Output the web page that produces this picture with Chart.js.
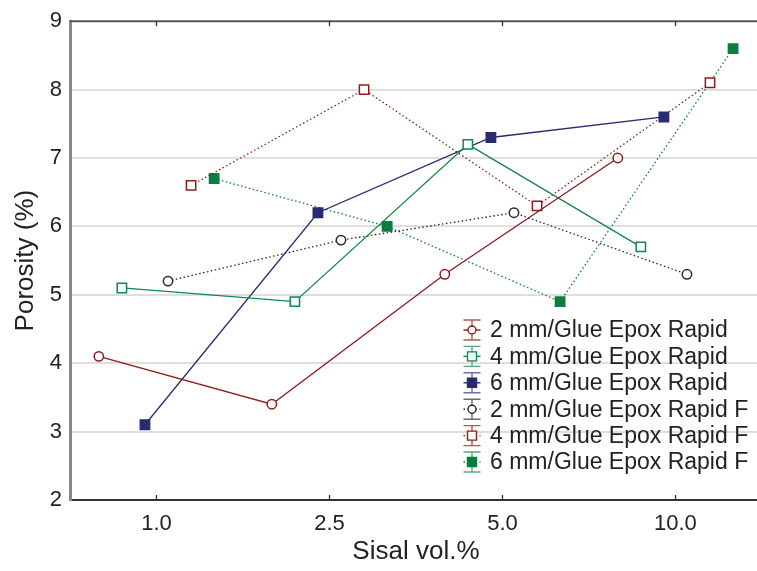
<!DOCTYPE html>
<html>
<head>
<meta charset="utf-8">
<title>Porosity vs sisal</title>
<script src="https://cdn.jsdelivr.net/npm/chart.js@4.4.1/dist/chart.umd.min.js"></script>
<style>
  html,body{margin:0;padding:0;background:#fff;overflow:hidden}
  canvas{display:block}
</style>
</head>
<body>
<canvas id="chart" width="770" height="571"></canvas>
<script>
// tick labels of the sisal axis (categories)
const categories = ['1.0', '2.5', '5.0', '10.0'];
const yTicks = [2, 3, 4, 5, 6, 7, 8, 9];

const seriesNames = [
  '2 mm/Glue Epox Rapid',
  '4 mm/Glue Epox Rapid',
  '6 mm/Glue Epox Rapid',
  '2 mm/Glue Epox Rapid F',
  '4 mm/Glue Epox Rapid F',
  '6 mm/Glue Epox Rapid F'
];

// porosity (%) per category
const p2mm  = [4.1, 3.4, 5.3, 7.0];
const p4mm  = [5.1, 4.9, 7.2, 5.7];
const p6mm  = [3.1, 6.2, 7.3, 7.6];
const p2mmF = [5.2, 5.8, 6.2, 5.3];
const p4mmF = [6.6, 8.0, 6.3, 8.1];
const p6mmF = [6.7, 6.0, 4.9, 8.6];
const seriesValues = [p2mm, p4mm, p6mm, p2mmF, p4mmF, p6mmF];

// styling: horizontal dodge of each series inside a category, colours, markers
const dodge = [-1/3, -0.2, -1/15, 1/15, 0.2, 1/3];
const styles = [
  {color:'#8e1c1c', cap:'#a85a5a', marker:'circle', fill:'#fff', dash:[]},
  {color:'#14874a', cap:'#5aa87e', marker:'rect', fill:'#fff', dash:[]},
  {color:'#282b70', cap:'#6d70a3', marker:'rect', fill:'#282b70', dash:[]},
  {color:'#2a2a2a', cap:'#6a6a6a', marker:'circle', fill:'#fff', dash:[1.5,2.5]},
  {color:'#8e1c1c', cap:'#a85a5a', marker:'rect', fill:'#fff', dash:[1.5,2.5]},
  {color:'#0b7d3e', cap:'#5aa87e', marker:'rect', fill:'#0b7d3e', dash:[1.5,2.5]}
];

const FONT = "'Liberation Sans', Arial, Helvetica, sans-serif";

const datasets = seriesNames.map((name, i) => {
  const st = styles[i];
  return {
    label: name,
    data: seriesValues[i].map((v, k) => ({x: k + dodge[i], y: v})),
    showLine: true,
    borderColor: st.color,
    borderWidth: 1.3,
    borderDash: st.dash,
    pointStyle: st.marker,
    pointRadius: st.marker === 'circle' ? 4.7 : 6.6,
    pointBorderWidth: 1.5,
    pointBackgroundColor: st.fill,
    pointBorderColor: st.color,
    tension: 0
  };
});

const framePlugin = {
  id: 'frame',
  afterDraw(chart){
    const {ctx, chartArea} = chart;
    const xs = chart.scales.x;
    ctx.save();
    // top frame line
    ctx.strokeStyle = '#555';
    ctx.lineWidth = 2;
    ctx.beginPath();
    ctx.moveTo(chartArea.left, chartArea.top);
    ctx.lineTo(chartArea.right, chartArea.top);
    ctx.stroke();
    // inward tick marks at top and bottom
    ctx.strokeStyle = '#333';
    ctx.lineWidth = 1.3;
    categories.forEach((c, k) => {
      const px = Math.round(xs.getPixelForValue(k)) + 0.5;
      ctx.beginPath();
      ctx.moveTo(px, chartArea.bottom);
      ctx.lineTo(px, chartArea.bottom - 5);
      ctx.moveTo(px, chartArea.top);
      ctx.lineTo(px, chartArea.top + 5);
      ctx.stroke();
    });

    // legend with error-bar glyphs
    const lx = 472, ly0 = 330, step = 26.4;
    seriesNames.forEach((name, i) => {
      const st = styles[i];
      const y = ly0 + i * step;
      ctx.setLineDash([]);
      ctx.strokeStyle = st.cap;
      ctx.lineWidth = 1.4;
      ctx.beginPath();
      ctx.moveTo(lx - 8.5, y - 10); ctx.lineTo(lx + 8.5, y - 10);
      ctx.moveTo(lx - 8.5, y + 10); ctx.lineTo(lx + 8.5, y + 10);
      ctx.moveTo(lx, y - 10); ctx.lineTo(lx, y + 10);
      ctx.stroke();
      ctx.strokeStyle = st.color;
      ctx.setLineDash(st.dash);
      ctx.beginPath();
      ctx.moveTo(lx - 8.5, y); ctx.lineTo(lx + 8.5, y);
      ctx.stroke();
      ctx.setLineDash([]);
      ctx.lineWidth = 1.4;
      ctx.fillStyle = st.fill;
      ctx.strokeStyle = st.color;
      ctx.beginPath();
      if (st.marker === 'circle') {
        ctx.arc(lx, y, 4, 0, Math.PI * 2);
      } else {
        ctx.rect(lx - 4.5, y - 4.5, 9, 9);
      }
      ctx.fill();
      ctx.stroke();
      ctx.fillStyle = '#222';
      ctx.font = '23px ' + FONT;
      ctx.textBaseline = 'middle';
      ctx.textAlign = 'left';
      ctx.fillText(name, 490, y + 1);
    });
    ctx.restore();
  }
};

new Chart(document.getElementById('chart'), {
  type: 'line',
  data: {datasets},
  options: {
    responsive: false,
    animation: false,
    devicePixelRatio: 1,
    layout: {padding: {top: 18, right: 0, left: 0, bottom: 0}},
    plugins: {
      legend: {display: false},
      tooltip: {enabled: false}
    },
    scales: {
      x: {
        type: 'linear',
        min: -0.5,
        max: 3.5,
        afterFit(scale){ scale.height = 71; },
        afterBuildTicks(scale){ scale.ticks = categories.map((c, k) => ({value: k})); },
        ticks: {
          callback: (v) => categories[v],
          font: {size: 22, family: FONT},
          color: '#222',
          padding: 3,
          maxRotation: 0,
          autoSkip: false
        },
        grid: {display: false},
        border: {display: true, color: '#333', width: 2},
        title: {
          display: true,
          text: 'Sisal vol.%',
          font: {size: 26, family: FONT, lineHeight: 1.2},
          color: '#222',
          padding: {top: 0, bottom: 4}
        }
      },
      y: {
        type: 'linear',
        min: 2,
        max: 9,
        afterFit(scale){ scale.width = 70; },
        afterBuildTicks(scale){ scale.ticks = yTicks.map(v => ({value: v})); },
        ticks: {
          font: {size: 22, family: FONT},
          color: '#222',
          padding: 8
        },
        grid: {
          drawTicks: false,
          color: (c) => (c.tick && (c.tick.value === 2 || c.tick.value === 9)) ? 'rgba(0,0,0,0)' : '#dedede',
          lineWidth: 2
        },
        border: {display: true, color: '#888', width: 3},
        title: {
          display: true,
          text: 'Porosity (%)',
          font: {size: 26, family: FONT, lineHeight: 1.2},
          color: '#222',
          padding: {top: 10, bottom: 0}
        }
      }
    }
  },
  plugins: [framePlugin]
});
</script>
</body>
</html>
